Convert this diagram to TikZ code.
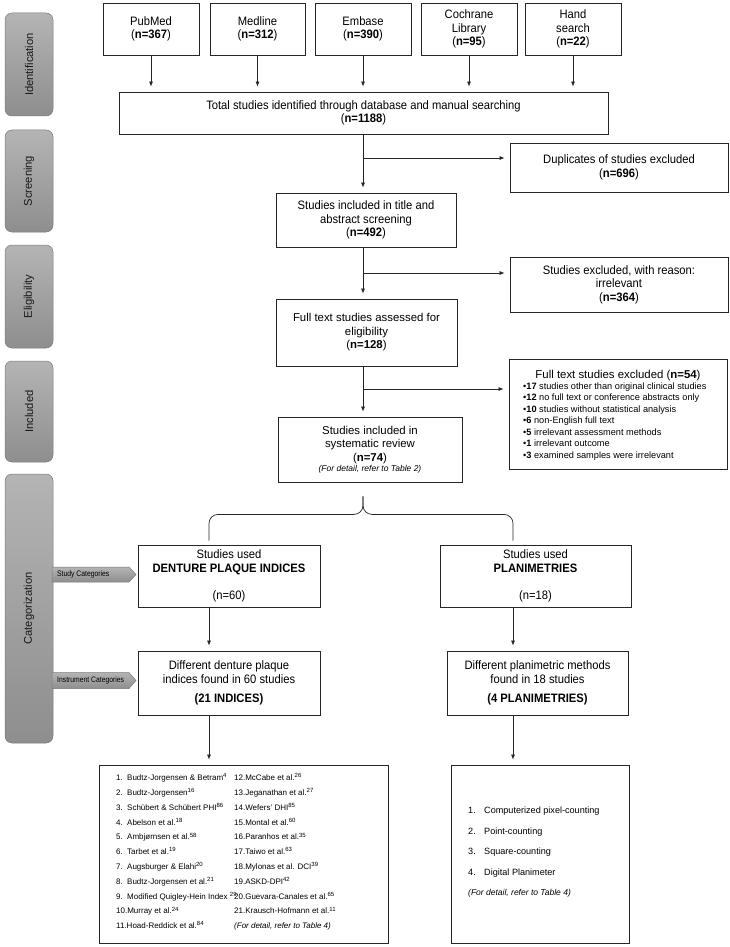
\documentclass[tikz,border=0pt]{standalone}
\usepackage{fontspec}
\setmainfont{Liberation Sans}
\newfontfamily\narrowf[FakeStretch=0.92]{Liberation Sans}
\newfontfamily\tagf[FakeStretch=0.85]{Liberation Sans}
\usetikzlibrary{arrows.meta,calc}
\definecolor{linec}{HTML}{262626}
\definecolor{barTop}{HTML}{B4B4B4}
\definecolor{barBot}{HTML}{8E8E8E}
\definecolor{barEdge}{HTML}{7A7A7A}
\begin{document}
\begin{tikzpicture}[x=1pt,y=-1pt,
  box/.style={draw=linec, line width=0.8pt, inner sep=0pt, align=center, text=black},
  nbox/.style={box, font=\narrowf\fontsize{12.2}{13.5}\selectfont},
  wbox/.style={box, font=\fontsize{11.4}{13.5}\selectfont},
  arr/.style={draw=linec, line width=0.7pt, -{Latex[length=5pt,width=4pt]}, shorten >=5pt},
  ln/.style={draw=linec, line width=0.7pt},
  phase/.style={draw=barEdge, line width=0.5pt, rounded corners=7pt, top color=barTop, bottom color=barBot, minimum width=48pt, inner sep=0pt},
  phasetxt/.style={rotate=90, font=\fontsize{11.2}{13}\selectfont, text=black!90},
  tagshape/.style={draw=barEdge, line width=0.5pt, top color=barTop, bottom color=barBot},
  tagtxt/.style={anchor=west, font=\tagf\fontsize{8}{9}\selectfont, text=black, inner sep=0pt},
]
\useasboundingbox (0,0) rectangle (730,947);
\fill[white] (0,0) rectangle (730,947);

% ---------- phase bars ----------
\node[phase, minimum height=103pt] (pid) at (29,64.5) {};
\node[phasetxt] (tid) at (pid.center) {Identification};
\node[phase, minimum height=102pt] (pscr) at (29,181) {};
\node[phasetxt] (tscr) at (pscr.center) {Screening};
\node[phase, minimum height=103pt] (pelig) at (29,296.5) {};
\node[phasetxt] (telig) at (pelig.center) {Eligibility};
\node[phase, minimum height=101pt] (pinc) at (29,411.5) {};
\node[phasetxt] (tinc) at (pinc.center) {Included};
\node[phase, minimum height=269pt] (pcat) at (29,608.5) {};
\node[phasetxt] (tcat) at (pcat.center) {Categorization};

% ---------- tags ----------
\path[tagshape] (52,567) -- (129,567) -- (136,574.5) -- (129,582) -- (52,582) -- cycle;
\node[tagtxt] (tagA) at (57,574.5) {Study Categories};
\path[tagshape] (52,672.5) -- (129,672.5) -- (136,680.5) -- (129,688.5) -- (52,688.5) -- cycle;
\node[tagtxt] (tagB) at (57,680.5) {Instrument Categories};

% ---------- identification ----------
\node[nbox, minimum width=96pt, minimum height=52pt] (pubmed) at (151,29) {PubMed\\(\textbf{n=367})};
\node[nbox, minimum width=95pt, minimum height=52pt] (medline) at (257.5,29) {Medline\\(\textbf{n=312})};
\node[nbox, minimum width=96pt, minimum height=52pt] (embase) at (363,29) {Embase\\(\textbf{n=390})};
\node[nbox, minimum width=96pt, minimum height=52pt] (cochrane) at (469,29) {Cochrane\\Library\\(\textbf{n=95})};
\node[nbox, minimum width=96pt, minimum height=52pt] (hand) at (573,29) {Hand\\search\\(\textbf{n=22})};

\node[nbox, minimum width=489pt, minimum height=42pt] (total) at (363.5,113) {Total studies identified through database and manual searching\\(\textbf{n=1188})};

\foreach \b in {pubmed,medline,embase,cochrane,hand}
  \draw[arr] (\b.south) -- (\b.south |- total.north);

% ---------- screening ----------
\coordinate (mx) at (363,0);
\node[nbox, minimum width=218pt, minimum height=49pt] (dup) at (619,167.5) {Duplicates of studies excluded\\(\textbf{n=696})};
\node[nbox, minimum width=180pt, minimum height=54pt] (title) at (366,220) {Studies included in title and\\abstract screening\\(\textbf{n=492})};
\draw[arr] (total.south -| mx) -- (title.north -| mx);
\coordinate (b1) at (363,158);
\draw[arr] (b1) -- (b1 -| dup.west);

% ---------- eligibility ----------
\node[nbox, minimum width=218pt, minimum height=55pt] (excl1) at (619,284.5) {Studies excluded, with reason:\\irrelevant\\(\textbf{n=364})};
\node[wbox, minimum width=181pt, minimum height=67pt] (full) at (366.5,332.5) {Full text studies assessed for\\eligibility\\(\textbf{n=128})};
\draw[arr] (title.south -| mx) -- (full.north -| mx);
\coordinate (b2) at (363,273);
\draw[arr] (b2) -- (b2 -| excl1.west);

% ---------- included ----------
\node[box, minimum width=218pt, minimum height=110pt] (excl2) at (618,414) {};
\node[font=\fontsize{11.4}{13}\selectfont, inner sep=0pt] (excl2h) at (618,376) {Full text studies excluded (\textbf{n=54})};
\node[anchor=north west, align=left, inner sep=0pt, font=\fontsize{9.2}{11.5}\selectfont] (excl2l) at (523,382.5) {%
•\textbf{17} studies other than original clinical studies\\
•\textbf{12} no full text or conference abstracts only\\
•\textbf{10} studies without statistical analysis\\
•\textbf{6} non-English full text\\
•\textbf{5} irrelevant assessment methods\\
•\textbf{1} irrelevant outcome\\
•\textbf{3} examined samples were irrelevant};

\node[wbox, minimum width=184pt, minimum height=65pt] (review) at (370,449.5) {Studies included in\\systematic review\\(\textbf{n=74})\\[-3pt]{\fontsize{8.5}{10}\selectfont\itshape (For detail, refer to Table 2)}};
\draw[arr] (full.south -| mx) -- (review.north -| mx);
\coordinate (b3) at (363,389);
\draw[arr] (b3) -- (b3 -| excl2.west);

% ---------- categorization ----------
\coordinate (lx) at (209,0);
\coordinate (rx) at (513,0);
\node[nbox, minimum width=182pt, minimum height=62pt] (dpi) at (229,576) {Studies used\\\textbf{DENTURE PLAQUE INDICES}\\[13.5pt](n=60)};
\node[nbox, minimum width=191pt, minimum height=62pt] (plan) at (535.5,576) {Studies used\\\textbf{PLANIMETRIES}\\[13.5pt](n=18)};

\coordinate (braceL) at ($(dpi.north -| lx)+(0,-4)$);
\coordinate (braceR) at ($(plan.north -| rx)+(0,-4)$);
\coordinate (braceT) at ($(review.south -| mx)+(0,14)$);
\coordinate (bmid) at ($(braceT)+(0,18)$);
\draw[ln, rounded corners=9pt] (braceL) |- (bmid) -- (braceT);
\draw[ln, rounded corners=9pt] (braceR) |- (bmid) -- (braceT);

\node[nbox, minimum width=182pt, minimum height=64pt] (dpi2) at (229,683) {Different denture plaque\\indices found in 60 studies\\[6pt]\textbf{(21 INDICES)}};
\node[nbox, minimum width=181pt, minimum height=64pt] (plan2) at (537.5,683) {Different planimetric methods\\found in 18 studies\\[6pt]\textbf{(4 PLANIMETRIES)}};
\draw[arr] (dpi.south -| lx) -- (dpi2.north -| lx);
\draw[arr] (plan.south -| rx) -- (plan2.north -| rx);

% ---------- lists ----------
\node[box, minimum width=289pt, minimum height=178pt] (list1) at (243.5,854) {};
\node[box, minimum width=178pt, minimum height=178pt] (list2) at (540,854) {};
\draw[arr] (dpi2.south -| lx) -- (list1.north -| lx);
\draw[arr] (plan2.south -| rx) -- (list2.north -| rx);

\node[anchor=north west, align=left, inner sep=0pt, font=\fontsize{8}{14.8}\selectfont] (col1) at (116,773.5) {%
\makebox[11pt][l]{1.}Budtz-Jorgensen \& Betram\textsuperscript{4}\\
\makebox[11pt][l]{2.}Budtz-Jorgensen\textsuperscript{16}\\
\makebox[11pt][l]{3.}Schübert \& Schübert PHI\textsuperscript{86}\\
\makebox[11pt][l]{4.}Abelson et al.\textsuperscript{18}\\
\makebox[11pt][l]{5.}Ambjørnsen et al.\textsuperscript{58}\\
\makebox[11pt][l]{6.}Tarbet et al.\textsuperscript{19}\\
\makebox[11pt][l]{7.}Augsburger \& Elahi\textsuperscript{20}\\
\makebox[11pt][l]{8.}Budtz-Jorgensen et al.\textsuperscript{21}\\
\makebox[11pt][l]{9.}Modified Quigley-Hein Index \textsuperscript{29}\\
10.Murray et al.\textsuperscript{24}\\
11.Hoad-Reddick et al.\textsuperscript{84}};
\node[anchor=north west, align=left, inner sep=0pt, font=\fontsize{8}{14.8}\selectfont] (col2) at (234,773.5) {%
12.McCabe et al.\textsuperscript{26}\\
13.Jeganathan et al.\textsuperscript{27}\\
14.Wefers' DHI\textsuperscript{85}\\
15.Montal et al.\textsuperscript{60}\\
16.Paranhos et al.\textsuperscript{35}\\
17.Taiwo et al.\textsuperscript{63}\\
18.Mylonas et al. DCI\textsuperscript{39}\\
19.ASKD-DPI\textsuperscript{42}\\
20.Guevara-Canales et al.\textsuperscript{65}\\
21.Krausch-Hofmann et al.\textsuperscript{11}\\
{\itshape (For detail, refer to Table 4)}};

\node[anchor=north west, align=left, inner sep=0pt, font=\fontsize{9.1}{20.5}\selectfont] (col3) at (468,807) {%
\makebox[16pt][l]{1.}Computerized pixel-counting\\
\makebox[16pt][l]{2.}Point-counting\\
\makebox[16pt][l]{3.}Square-counting\\
\makebox[16pt][l]{4.}Digital Planimeter\\
{\fontsize{8.5}{20.5}\selectfont\itshape (For detail, refer to Table 4)}};
\end{tikzpicture}
\end{document}
